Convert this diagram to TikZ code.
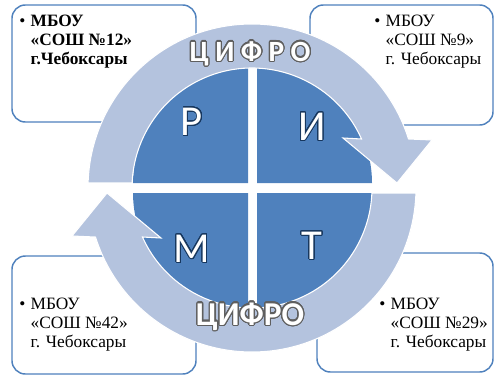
\documentclass[tikz,border=0pt]{standalone}
\usepackage{fontspec}
\setmainfont{Liberation Serif}
\newfontfamily\carlito{Carlito}
\usepackage{contour}
\contournumber{24}
\usetikzlibrary{calc}
\definecolor{pieblue}{RGB}{79,129,189}
\definecolor{ringblue}{RGB}{180,195,222}
\definecolor{letteredge}{RGB}{23,55,94}
\definecolor{wordedge}{RGB}{95,95,95}
\newcommand{\school}[3]{\begin{tabular}[t]{@{}l@{\hspace{4pt}}l@{}}\textbullet & #1МБОУ\\ & #1«СОШ №#2»\\ & #1#3\end{tabular}}

\begin{document}
\begin{tikzpicture}[x=0.75pt,y=0.75pt,
    box/.style={draw=pieblue, line width=1.1pt, rounded corners=10pt, fill=white, inner sep=0pt},
    band/.style={fill=ringblue, draw=white, line width=0.8pt},
    quarter/.style={fill=pieblue},
    letter/.style={font=\carlito\fontsize{32}{32}\selectfont, text=white, inner sep=0pt},
    schooltext/.style={font=\fontsize{13}{14.5}\selectfont, inner sep=0pt, anchor=base west},
    word/.style={font=\carlito\bfseries\fontsize{22}{22}\selectfont, text=white, inner sep=0pt}]

    \useasboundingbox (0,0) rectangle (495,376);

    \node[box, minimum width=138pt, minimum height=87.75pt] (b1) at (104,312.5) {};
    \node[box, minimum width=137.25pt, minimum height=90pt] (b2) at (401.5,311) {};
    \node[box, minimum width=138pt, minimum height=88.5pt] (b3) at (104,61) {};
    \node[box, minimum width=132pt, minimum height=89.25pt] (b4) at (405,63.5) {};

    \fill[quarter] (248,193) -- ++(-115,0) arc[start angle=180, end angle=90, radius=115] -- cycle;
    \fill[quarter] (257,193) -- ++(0,115) arc[start angle=90, end angle=0, radius=115] -- cycle;
    \fill[quarter] (248,183) -- ++(0,-115) arc[start angle=270, end angle=180, radius=115] -- cycle;
    \fill[quarter] (257,183) -- ++(115,0) arc[start angle=0, end angle=-90, radius=115] -- cycle;

    \foreach \turn in {0,180} {
        \begin{scope}[shift={(252,188)}, rotate=\turn]
            \draw[band] (178.25:164) arc[start angle=178.25, end angle=17.4, radius=164]
                -- (180,48) -- (145,5) -- (91,50) -- (24.1:120)
                arc[start angle=24.1, end angle=177.6, radius=120] -- cycle;
        \end{scope}
    }

    \contourlength{0.7pt}
    \node[letter] (r) at (192,254) {\contour{letteredge}{Р}};
    \node[letter] (i) at (312,249) {\contour{letteredge}{И}};
    \node[letter] (m) at (192,127) {\contour{letteredge}{М}};
    \node[letter] (t) at (312,130) {\contour{letteredge}{Т}};

    \node[word] (top) at (250,322) {\contourlength{0.9pt}\addfontfeature{LetterSpace=22}\contour{wordedge}{ЦИФРО}};
    \node[word, font=\carlito\bfseries\fontsize{25}{25}\selectfont] (bottom) at (250,59) {\contourlength{0.9pt}\contour{wordedge}{ЦИФРО}};

    \node[schooltext] (s1) at (19,350) {\school{\bfseries}{12}{г.Чебоксары}};
    \node[schooltext] (s2) at (374,350) {\school{}{9}{г. Чебоксары}};
    \node[schooltext] (s3) at (19,67) {\school{}{42}{г. Чебоксары}};
    \node[schooltext] (s4) at (379,67) {\school{}{29}{г. Чебоксары}};

\end{tikzpicture}
\end{document}
